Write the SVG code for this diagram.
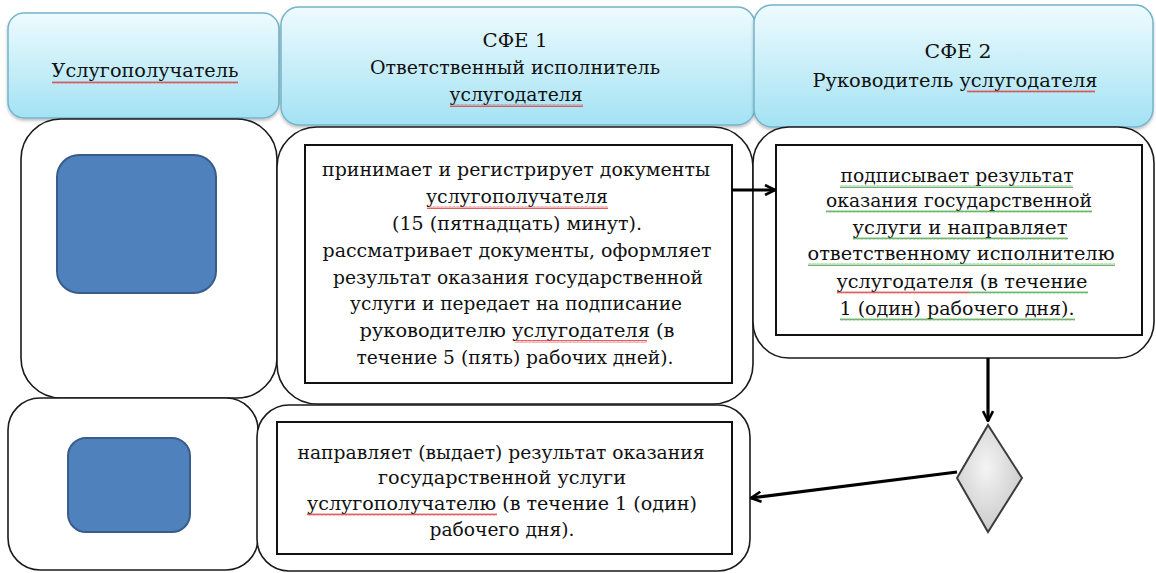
<svg xmlns="http://www.w3.org/2000/svg" width="1156" height="573" viewBox="0 0 1156 573">
<defs>
  <linearGradient id="hdr" x1="0" y1="0" x2="0" y2="1">
    <stop offset="0" stop-color="#EEFBFE"/>
    <stop offset="1" stop-color="#A3E2F4"/>
  </linearGradient>
  <radialGradient id="dia" cx="0.45" cy="0.4" r="0.7">
    <stop offset="0" stop-color="#F4F4F4"/>
    <stop offset="1" stop-color="#C4C4C4"/>
  </radialGradient>
  <filter id="sh" x="-5%" y="-10%" width="110%" height="125%">
    <feDropShadow dx="0" dy="2" stdDeviation="1.5" flood-color="#000" flood-opacity="0.25"/>
  </filter>
  <pattern id="wr" width="4" height="3" patternUnits="userSpaceOnUse">
    <path d="M0 2.5 L1 0.5 L2 2.5 L3 0.5 L4 2.5" fill="none" stroke="#D83A3A" stroke-width="0.8"/>
  </pattern>
  <pattern id="wg" width="4" height="3" patternUnits="userSpaceOnUse">
    <path d="M0 2.5 L1 0.5 L2 2.5 L3 0.5 L4 2.5" fill="none" stroke="#4BA34B" stroke-width="0.8"/>
  </pattern>
  <marker id="arr" viewBox="0 0 12 12" refX="11" refY="6" markerWidth="12" markerHeight="12" markerUnits="userSpaceOnUse" orient="auto">
    <polyline points="1,1 11,6 1,11" fill="none" stroke="#000" stroke-width="2.6"/>
  </marker>
</defs>
<style>
  .hdr { fill: url(#hdr); stroke: #74B4CA; stroke-width: 1.5; filter: url(#sh); }
  .lane { fill: #fff; stroke: #1a1a1a; stroke-width: 1.6; }
  .box { fill: #fff; stroke: #111; stroke-width: 2; }
  .blue { fill: #4F81BD; stroke: #385D8A; stroke-width: 2; }
  .t { font-family: "DejaVu Serif", "Liberation Serif", serif; font-size: 19px; fill: #111; text-anchor: middle; }
  .conn { fill: none; stroke: #000; stroke-width: 3.2; marker-end: url(#arr); }
  .sqr { fill: url(#wr); }
  .sqg { fill: url(#wg); }
</style>

<rect width="1156" height="573" fill="#fff"/>

<!-- Headers -->
<g id="header-1">
  <rect class="hdr" x="8" y="13" width="271" height="105" rx="16"/>
  <text class="t" x="145" y="77" textLength="187" lengthAdjust="spacingAndGlyphs">Услугополучатель</text>
  <rect class="sqr" x="52" y="81" width="186" height="3"/>
</g>
<g id="header-2">
  <rect class="hdr" x="281" y="7" width="474" height="118" rx="18"/>
  <text class="t" x="515" y="47" textLength="65" lengthAdjust="spacingAndGlyphs">СФЕ 1</text>
  <text class="t" x="515" y="74" textLength="290" lengthAdjust="spacingAndGlyphs">Ответственный  исполнитель</text>
  <text class="t" x="516" y="101" textLength="133" lengthAdjust="spacingAndGlyphs">услугодателя</text>
  <rect class="sqr" x="450" y="104" width="133" height="3"/>
</g>
<g id="header-3">
  <rect class="hdr" x="754" y="5" width="399" height="122" rx="18"/>
  <text class="t" x="958" y="58" textLength="67" lengthAdjust="spacingAndGlyphs">СФЕ 2</text>
  <text class="t" x="955" y="87" textLength="285" lengthAdjust="spacingAndGlyphs">Руководитель услугодателя</text>
  <rect class="sqr" x="967" y="90" width="128" height="3"/>
</g>

<!-- Row 1 -->
<g id="lane-client-1">
  <rect class="lane" x="21" y="119" width="256" height="279" rx="40"/>
  <rect class="blue" x="57" y="155" width="159" height="138" rx="22"/>
</g>
<g id="step-1">
  <rect class="lane" x="277" y="127" width="476" height="277" rx="40"/>
  <rect class="box" x="305" y="145" width="427" height="238"/>
  <text class="t" x="516" y="176" textLength="388" lengthAdjust="spacingAndGlyphs">принимает и регистрирует документы</text>
  <text class="t" x="517" y="203" textLength="182" lengthAdjust="spacingAndGlyphs">услугополучателя</text>
  <rect class="sqr" x="427" y="206" width="181" height="3"/>
  <text class="t" x="517" y="230" textLength="250" lengthAdjust="spacingAndGlyphs">(15 (пятнадцать) минут).</text>
  <text class="t" x="517" y="257" textLength="389" lengthAdjust="spacingAndGlyphs">рассматривает документы, оформляет</text>
  <text class="t" x="518" y="284" textLength="370" lengthAdjust="spacingAndGlyphs">результат оказания государственной</text>
  <text class="t" x="516" y="310" textLength="332" lengthAdjust="spacingAndGlyphs">услуги и передает  на подписание</text>
  <text class="t" x="517" y="337" textLength="315" lengthAdjust="spacingAndGlyphs">руководителю услугодателя (в</text>
  <rect class="sqr" x="515" y="340" width="132" height="3"/>
  <text class="t" x="515" y="364" textLength="317" lengthAdjust="spacingAndGlyphs">течение  5 (пять) рабочих дней).</text>
</g>
<g id="step-2">
  <rect class="lane" x="753" y="127" width="401" height="231" rx="36"/>
  <rect class="box" x="776" y="145" width="366" height="190"/>
  <text class="t" x="957" y="182" textLength="233" lengthAdjust="spacingAndGlyphs">подписывает  результат</text>
  <rect class="sqg" x="840" y="185" width="233" height="3"/>
  <text class="t" x="959" y="207" textLength="266" lengthAdjust="spacingAndGlyphs">оказания государственной</text>
  <rect class="sqg" x="826" y="210" width="266" height="3"/>
  <text class="t" x="960" y="234" textLength="215" lengthAdjust="spacingAndGlyphs">услуги и направляет</text>
  <rect class="sqg" x="853" y="237" width="215" height="3"/>
  <text class="t" x="961" y="260" textLength="307" lengthAdjust="spacingAndGlyphs">ответственному исполнителю</text>
  <rect class="sqg" x="808" y="263" width="307" height="3"/>
  <text class="t" x="962" y="288" textLength="251" lengthAdjust="spacingAndGlyphs">услугодателя (в течение</text>
  <rect class="sqr" x="837" y="291" width="132" height="3"/>
  <rect class="sqg" x="969" y="291" width="119" height="3"/>
  <text class="t" x="957" y="315" textLength="235" lengthAdjust="spacingAndGlyphs">1 (один) рабочего дня).</text>
  <rect class="sqg" x="840" y="318" width="235" height="3"/>
</g>

<!-- Row 2 -->
<g id="lane-client-2">
  <rect class="lane" x="8" y="398" width="250" height="172" rx="32"/>
  <rect class="blue" x="68" y="438" width="122" height="94" rx="18"/>
</g>
<g id="step-3">
  <rect class="lane" x="257" y="405" width="493" height="166" rx="32"/>
  <rect class="box" x="277" y="422" width="455" height="132"/>
  <text class="t" x="501" y="459" textLength="407" lengthAdjust="spacingAndGlyphs">направляет (выдает) результат оказания</text>
  <text class="t" x="502" y="484" textLength="248" lengthAdjust="spacingAndGlyphs">государственной  услуги</text>
  <text class="t" x="502" y="510" textLength="390" lengthAdjust="spacingAndGlyphs">услугополучателю (в течение 1 (один)</text>
  <rect class="sqr" x="307" y="513" width="190" height="3"/>
  <text class="t" x="502" y="536" textLength="145" lengthAdjust="spacingAndGlyphs">рабочего дня).</text>
</g>
<g id="decision">
  <polygon points="988,425 1022,478 988,532 957,478" fill="url(#dia)" stroke="#3c3c3c" stroke-width="2"/>
</g>

<!-- Connectors -->
<g id="connectors">
  <line class="conn" x1="732" y1="190" x2="775" y2="190"/>
  <line class="conn" x1="988" y1="358" x2="988" y2="421"/>
  <line class="conn" x1="957" y1="472" x2="751" y2="498"/>
</g>
</svg>
